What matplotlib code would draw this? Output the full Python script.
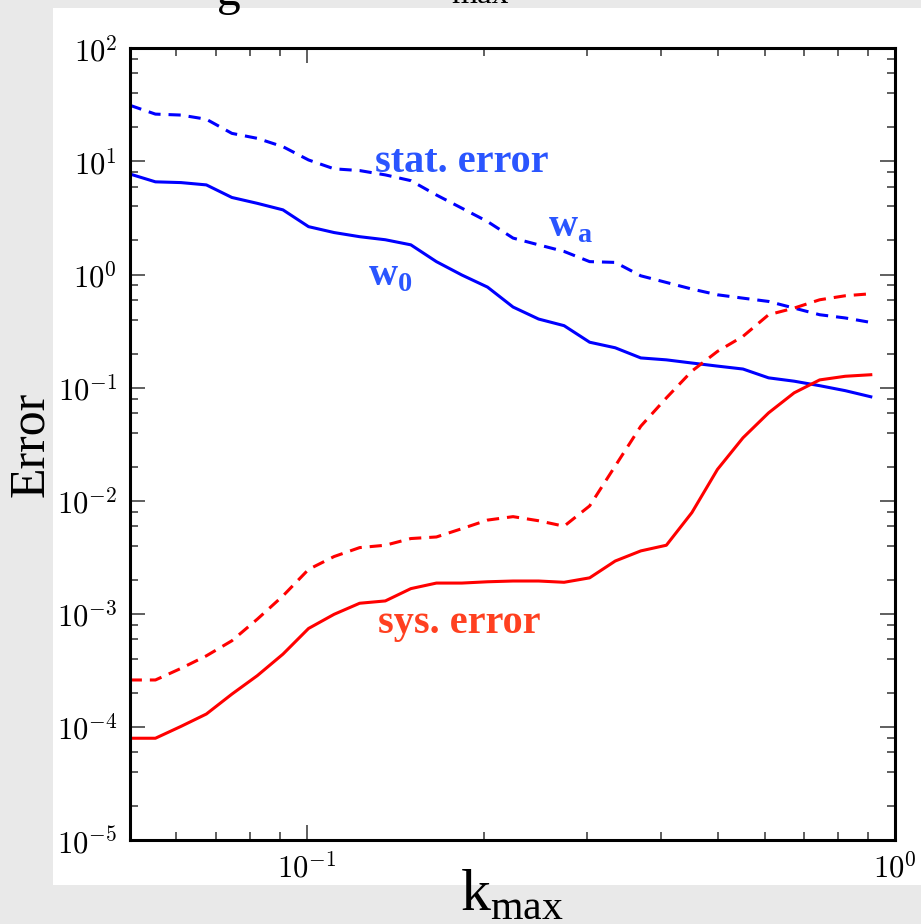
import numpy as np
import matplotlib
matplotlib.use("Agg")
import matplotlib.pyplot as plt
from matplotlib.patches import Rectangle
from matplotlib.ticker import FuncFormatter, LogLocator

plt.rcParams['mathtext.fontset'] = 'cm'
plt.rcParams['mathtext.rm'] = 'Liberation Serif'
plt.rcParams['mathtext.bf'] = 'Liberation Serif:bold'

# k_max grid
kmax = [0.0500, 0.0553, 0.0611, 0.0675, 0.0746, 0.0824, 0.0911, 0.1007,
        0.1113, 0.1230, 0.1360, 0.1503, 0.1661, 0.1835, 0.2029, 0.2242,
        0.2478, 0.2738, 0.3026, 0.3345, 0.3697, 0.4086, 0.4515, 0.4990,
        0.5515, 0.6096, 0.6737, 0.7446, 0.8229, 0.9095]

# statistical errors
stat_w0 = [7.75, 6.6, 6.5, 6.2, 4.8, 4.26, 3.73, 2.65, 2.35, 2.16,
           2.03, 1.83, 1.30, 0.99, 0.774, 0.516, 0.404, 0.353, 0.252, 0.225,
           0.183, 0.176, 0.165, 0.155, 0.146, 0.122, 0.114, 0.104, 0.094, 0.083]
stat_wa = [31.4, 26.2, 25.7, 23.6, 17.7, 16.0, 13.5, 10.3, 8.6, 8.3,
           7.6, 6.76, 5.05, 3.86, 2.94, 2.10, 1.83, 1.60, 1.30, 1.28,
           0.974, 0.851, 0.744, 0.662, 0.618, 0.578, 0.505, 0.441, 0.413, 0.377]

# systematic errors
sys_w0 = [7.94e-5, 7.94e-5, 1.01e-4, 1.30e-4, 1.95e-4, 2.84e-4, 4.40e-4, 7.42e-4,
          9.9e-4, 1.24e-3, 1.30e-3, 1.67e-3, 1.87e-3, 1.87e-3, 1.92e-3, 1.95e-3,
          1.95e-3, 1.90e-3, 2.08e-3, 2.93e-3, 3.60e-3, 4.04e-3, 7.85e-3, 0.0189,
          0.036, 0.0598, 0.0899, 0.117, 0.126, 0.130]
sys_wa = [2.6e-4, 2.6e-4, 3.29e-4, 4.25e-4, 5.78e-4, 8.97e-4, 1.44e-3, 2.47e-3,
          3.21e-3, 3.85e-3, 4.04e-3, 4.63e-3, 4.78e-3, 5.66e-3, 6.74e-3, 7.23e-3,
          6.65e-3, 5.95e-3, 9.0e-3, 0.0203, 0.0456, 0.0811, 0.140, 0.209,
          0.284, 0.441, 0.505, 0.598, 0.649, 0.676]

fig = plt.figure(figsize=(9.21, 9.24), dpi=100)
fig.patch.set_facecolor('#e9e9e9')
fig.patches.append(Rectangle((53 / 921, 1 - 885 / 924), 1, (885 - 8) / 924,
                             transform=fig.transFigure, facecolor='white',
                             edgecolor='none', zorder=-1))

# cut-off title remnants at the very top
fig.text(0.236, 1 - 5 / 924, 'g', fontsize=34, family='Liberation Serif', va='baseline')
fig.text(0.49, 1 - 3 / 924, 'max', fontsize=24, family='Liberation Serif', va='baseline')

ax = fig.add_axes([0.1408, 0.0909, 0.8310, 0.8568])
ax.set_facecolor('white')
dash = (4, 2.6)
ax.plot(kmax, stat_w0, color='blue', lw=2.2)
ax.plot(kmax, stat_wa, color='blue', lw=2.2, dashes=dash)
ax.plot(kmax, sys_w0, color='red', lw=2.2)
ax.plot(kmax, sys_wa, color='red', lw=2.2, dashes=dash)

ax.set_xscale('log')
ax.set_yscale('log')
ax.set_xlim(0.05, 1.0)
ax.set_ylim(1e-5, 1e2)

ax.xaxis.set_major_locator(LogLocator(base=10))
ax.xaxis.set_minor_locator(LogLocator(base=10, subs=np.arange(2, 10)))
ax.yaxis.set_major_locator(LogLocator(base=10, numticks=20))
ax.yaxis.set_minor_locator(LogLocator(base=10, subs=[2, 4, 6, 8], numticks=20))
fmt = FuncFormatter(lambda v, p: r'$10^{%d}$' % round(np.log10(v)))
ax.xaxis.set_major_formatter(fmt)
ax.yaxis.set_major_formatter(fmt)
ax.xaxis.set_minor_formatter(FuncFormatter(lambda v, p: ''))

ax.tick_params(which='both', direction='in', top=True, right=True,
               color='#444444', labelsize=22, pad=9)
ax.tick_params(which='major', length=11, width=1.2)
ax.tick_params(which='minor', length=5.5, width=1.2)
for s in ax.spines.values():
    s.set_linewidth(2.2)

ax.set_xlabel(r'$\mathrm{k}_{\mathrm{max}}$', fontsize=43, math_fontfamily='custom',
              labelpad=-14)
ax.set_ylabel('Error', fontsize=36, family='Liberation Serif', labelpad=2)

blue_txt = '#2a55ff'
red_txt = '#ff4020'
ax.text(0.321, 0.8437, 'stat. error', transform=ax.transAxes, color=blue_txt,
        fontsize=29, fontweight='bold', family='Liberation Serif', va='baseline')
ax.text(0.547, 0.762, r'$\mathbf{w}_{\mathbf{a}}$', transform=ax.transAxes,
        color=blue_txt, fontsize=29, math_fontfamily='custom', va='baseline')
ax.text(0.312, 0.701, r'$\mathbf{w}_{\mathbf{0}}$', transform=ax.transAxes,
        color=blue_txt, fontsize=29, math_fontfamily='custom', va='baseline')
ax.text(0.325, 0.2615, 'sys. error', transform=ax.transAxes, color=red_txt,
        fontsize=29, fontweight='bold', family='Liberation Serif', va='baseline')

fig.savefig('out.png', dpi=100, facecolor=fig.get_facecolor())
